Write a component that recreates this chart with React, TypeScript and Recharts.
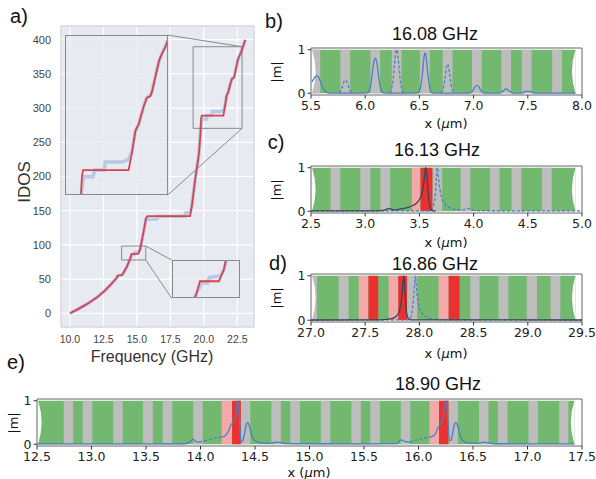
import React from "react";
import { LineChart, Line, XAxis, YAxis, CartesianGrid, ReferenceArea, ReferenceLine } from "recharts";

type Pair = [number, number | null];
const toPts = (arr: Pair[]) => arr.map(([x, y]) => ({ x, y }));

const SANS = "'Liberation Sans', Arial, sans-serif";
const DJ = "'DejaVu Sans', sans-serif";
const GREEN = "#72b96f";
const GRAY = "#bdbdbd";
const PINK = "#f3a9a9";
const RED = "#ec3030";
const BLUE = "#4a7fc4";
const DARK = "#3a4656";

// ---------- panel a : IDOS vs frequency ----------
const A_X_TICKS = [10, 12.5, 15, 17.5, 20, 22.5];
const A_Y_TICKS = [0, 50, 100, 150, 200, 250, 300, 350, 400];
const A_XDOM: [number, number] = [9.33, 23.75];
const A_YDOM: [number, number] = [-20, 420];
const A_PLOT = { left: 61, top: 26, width: 193, height: 301 };

const IDOS_RED: Pair[] = [
  [10.0, 0], [10.5, 5], [11.0, 10.5], [11.4, 15], [12.0, 23], [12.6, 33], [13.1, 43], [13.5, 52],
  [13.55, 55], [13.9, 56], [14.25, 68], [14.5, 80], [14.6, 87], [15.1, 87], [15.23, 93], [15.41, 110],
  [15.55, 125], [15.68, 139], [15.8, 142], [18.97, 142], [19.1, 156], [19.35, 195], [19.64, 234],
  [19.75, 262], [19.8, 284], [19.84, 289], [21.46, 289], [21.58, 302], [21.7, 318], [21.76, 321],
  [21.82, 323], [21.99, 336], [22.11, 343], [22.23, 344], [22.3, 348], [22.47, 364], [22.55, 371],
  [22.65, 376], [22.77, 381], [22.93, 390], [23.1, 400],
];
const IDOS_BLUE: Pair[] = [
  [10.0, 0], [10.5, 5], [11.0, 10.5], [11.4, 15], [12.0, 23], [12.6, 33], [13.1, 43], [13.5, 52],
  [13.6, 55], [13.95, 57], [14.25, 68], [14.5, 80], [14.65, 86], [14.8, 86], [14.85, 89], [15.15, 90],
  [15.25, 94], [15.41, 110], [15.68, 137], [15.75, 137], [16.5, 138], [16.6, 142], [18.6, 142],
  [18.65, 147], [18.97, 147], [19.1, 156], [19.35, 195], [19.64, 234], [19.77, 270], [19.85, 284],
  [20.2, 284], [20.25, 289], [20.6, 289], [20.63, 295], [21.22, 295], [21.46, 297], [21.58, 303],
  [21.7, 318], [21.8, 322], [21.85, 326], [21.99, 336], [22.05, 340], [22.11, 343], [22.25, 345],
  [22.3, 349], [22.47, 364], [22.55, 371], [22.65, 376], [22.77, 381], [22.93, 390], [23.1, 400],
];

const TOP_INSET = { x1: 9.63, x2: 17.3, y1: 172.9, y2: 406.8 };
const TOP_ZOOM = { x1: 19.2, x2: 22.86, y1: 270.4, y2: 389.7 };
const BOT_INSET = { x1: 17.6, x2: 22.71, y1: 21.9, y2: 77.9 };
const BOT_ZOOM = { x1: 13.86, x2: 15.66, y1: 78, y2: 98.4 };

// ---------- panels b-e : |m| profiles ----------
const B_TICKS = [5.5, 6.0, 6.5, 7.0, 7.5, 8.0];
const B_SPAN: [number, number] = [5.51, 7.94];
const B_GRAY: [number, number][] = [
  [5.51, 5.585], [5.771, 5.861], [6.048, 6.138], [6.245, 6.335], [6.505, 6.595],
  [6.715, 6.805], [6.985, 7.075], [7.255, 7.345], [7.445, 7.535], [7.725, 7.815],
];
const B_SOLID: Pair[] = [
  [5.51, 0.26], [5.525, 0.33], [5.54, 0.38], [5.555, 0.4], [5.57, 0.37], [5.59, 0.25], [5.61, 0.12],
  [5.63, 0.04], [5.66, 0.01], [5.75, 0.005], [5.9, 0.005],
  [6.02, 0.01], [6.045, 0.12], [6.065, 0.45], [6.08, 0.72], [6.093, 0.8], [6.106, 0.72], [6.121, 0.45],
  [6.141, 0.12], [6.166, 0.01], [6.25, 0.005], [6.35, 0.005],
  [6.49, 0.01], [6.51, 0.13], [6.53, 0.5], [6.542, 0.82], [6.552, 0.93], [6.563, 0.82], [6.576, 0.5],
  [6.596, 0.13], [6.616, 0.01], [6.7, 0.005], [6.85, 0.005],
  [6.96, 0.005], [6.99, 0.05], [7.01, 0.14], [7.03, 0.18], [7.05, 0.14], [7.07, 0.05], [7.1, 0.005],
  [7.24, 0.005], [7.27, 0.05], [7.3, 0.1], [7.33, 0.05], [7.36, 0.005],
  [7.44, 0.005], [7.47, 0.035], [7.5, 0.05], [7.53, 0.035], [7.56, 0.005], [7.94, 0.003],
];
const B_DASH: Pair[] = [
  [5.76, 0.01], [5.785, 0.12], [5.805, 0.27], [5.818, 0.3], [5.83, 0.27], [5.85, 0.12], [5.875, 0.01],
  [6.0, null],
  [6.225, 0.01], [6.25, 0.18], [6.268, 0.6], [6.28, 0.9], [6.29, 1.0], [6.3, 0.9], [6.312, 0.6],
  [6.33, 0.18], [6.355, 0.01],
  [6.5, null],
  [6.7, 0.01], [6.722, 0.12], [6.74, 0.42], [6.752, 0.62], [6.76, 0.67], [6.768, 0.62], [6.78, 0.42],
  [6.798, 0.12], [6.82, 0.01],
];

const C_TICKS = [2.5, 3.0, 3.5, 4.0, 4.5, 5.0];
const C_SPAN: [number, number] = [2.51, 4.94];
const C_GRAY: [number, number][] = [
  [2.68, 2.77], [2.955, 3.047], [3.14, 3.23], [3.62, 3.71], [3.88, 3.97], [4.15, 4.24], [4.35, 4.44], [4.63, 4.72],
];
const C_PINK: [number, number][] = [[3.43, 3.51]];
const C_RED: [number, number][] = [[3.51, 3.62]];
const C_SOLID: Pair[] = [
  [2.5, 0.008], [3.1, 0.01], [3.17, 0.02], [3.2, 0.05], [3.22, 0.065], [3.24, 0.05], [3.27, 0.03],
  [3.32, 0.05], [3.38, 0.08], [3.43, 0.12], [3.47, 0.18], [3.5, 0.27], [3.52, 0.38], [3.535, 0.55],
  [3.548, 0.8], [3.558, 1.0], [3.566, 0.9], [3.575, 0.6], [3.585, 0.3], [3.6, 0.08], [3.615, 0.02], [3.65, 0.005],
];
const C_DASH: Pair[] = [
  [2.5, 0.01], [3.55, 0.01], [3.6, 0.02], [3.625, 0.1], [3.645, 0.35], [3.655, 0.7], [3.665, 1.0],
  [3.675, 0.8], [3.69, 0.5], [3.71, 0.28], [3.74, 0.15], [3.78, 0.08], [3.83, 0.04], [3.9, 0.03],
  [3.93, 0.05], [3.955, 0.065], [3.98, 0.04], [4.02, 0.015], [4.4, 0.01], [5.0, 0.01],
];

const D_TICKS = [27.0, 27.5, 28.0, 28.5, 29.0, 29.5];
const D_SPAN: [number, number] = [27.01, 29.44];
const D_GRAY: [number, number][] = [
  [27.01, 27.055], [27.255, 27.347], [27.886, 27.978], [28.47, 28.555], [28.73, 28.82], [28.99, 29.085], [29.21, 29.3],
];
const D_PINK: [number, number][] = [[27.44, 27.53], [27.716, 27.805], [28.177, 28.27]];
const D_RED: [number, number][] = [[27.53, 27.62], [27.805, 27.886], [28.27, 28.37]];
const D_SOLID: Pair[] = [
  [27.0, 0.005], [27.6, 0.008], [27.7, 0.02], [27.75, 0.04], [27.79, 0.1], [27.815, 0.2], [27.83, 0.38],
  [27.84, 0.6], [27.848, 0.85], [27.855, 1.0], [27.862, 0.85], [27.87, 0.5], [27.88, 0.2], [27.895, 0.05],
  [27.92, 0.01], [29.5, 0.005],
];
const D_DASH: Pair[] = [
  [27.0, 0.005], [27.9, 0.01], [27.925, 0.1], [27.94, 0.35], [27.952, 0.7], [27.962, 1.0], [27.972, 0.75],
  [27.985, 0.45], [28.0, 0.28], [28.03, 0.14], [28.07, 0.07], [28.12, 0.03], [28.2, 0.012], [29.5, 0.005],
];

const E_TICKS = [12.5, 13.0, 13.5, 14.0, 14.5, 15.0, 15.5, 16.0, 16.5, 17.0, 17.5];
const E_SPAN: [number, number] = [12.51, 17.43];
const E_GRAY: [number, number][] = [
  [12.745, 12.832], [12.919, 13.007], [13.199, 13.286], [13.472, 13.563], [13.653, 13.741], [13.933, 14.02],
  [14.37, 14.457], [14.65, 14.737], [14.824, 14.912], [15.104, 15.191], [15.384, 15.471], [15.558, 15.646],
  [15.838, 15.925], [16.275, 16.362], [16.555, 16.642], [16.729, 16.817], [17.009, 17.096], [17.29, 17.375],
];
const E_PINK: [number, number][] = [[14.195, 14.29], [16.1, 16.188]];
const E_RED: [number, number][] = [[14.29, 14.37], [16.188, 16.275]];
const E_SOLID: Pair[] = [
  [12.5, 0.01], [13.2, 0.01], [13.85, 0.012], [13.9, 0.05], [13.93, 0.11], [13.96, 0.06], [13.99, 0.05],
  [14.1, null],
  [14.19, 0.16], [14.23, 0.2], [14.26, 0.32], [14.28, 0.45], [14.3, 0.5], [14.32, 0.6], [14.34, 0.95],
  [14.35, 1.0], [14.36, 0.5], [14.37, 0.1], [14.38, 0.05], [14.4, 0.2], [14.42, 0.45], [14.435, 0.5],
  [14.45, 0.4], [14.47, 0.2], [14.5, 0.08], [14.55, 0.03], [14.62, 0.02], [14.68, 0.04], [14.71, 0.05],
  [14.75, 0.03], [14.8, 0.015], [15.5, 0.01], [15.8, 0.015], [15.84, 0.1], [15.88, 0.06], [15.92, 0.05],
  [16.0, null],
  [16.1, 0.16], [16.15, 0.22], [16.18, 0.38], [16.2, 0.45], [16.22, 0.55], [16.25, 0.95], [16.26, 1.0],
  [16.27, 0.5], [16.285, 0.08], [16.3, 0.1], [16.32, 0.35], [16.34, 0.5], [16.36, 0.42], [16.38, 0.2],
  [16.41, 0.08], [16.45, 0.03], [16.55, 0.02], [16.6, 0.05], [16.64, 0.03], [16.7, 0.012], [17.43, 0.01],
];
const E_DASH: Pair[] = [
  [13.99, 0.05], [14.05, 0.09], [14.1, 0.12], [14.15, 0.15], [14.19, 0.16],
  [15.0, null],
  [15.92, 0.05], [15.98, 0.1], [16.04, 0.14], [16.1, 0.16],
];

// ---------- helpers ----------
const notchLeft = (p: any) => {
  const d = 3.5;
  return <path d={`M${p.x},${p.y} Q${p.x + 2 * d},${p.y + p.height / 2} ${p.x},${p.y + p.height} Z`} fill="#fff" />;
};
const notchRight = (p: any) => {
  const d = 3.5;
  const x = p.x + p.width;
  return <path d={`M${x},${p.y} Q${x - 2 * d},${p.y + p.height / 2} ${x},${p.y + p.height} Z`} fill="#fff" />;
};

function Txt(props: { x: number; y: number; size: number; font?: string; rotate?: boolean; color?: string; children: React.ReactNode }) {
  return (
    <div
      style={{
        position: "absolute",
        left: props.x,
        top: props.y,
        transform: `translate(-50%, -50%)${props.rotate ? " rotate(-90deg)" : ""}`,
        fontSize: props.size,
        fontFamily: props.font || SANS,
        color: props.color || "#111",
        whiteSpace: "nowrap",
        lineHeight: 1,
      }}
    >
      {props.children}
    </div>
  );
}

type StripProps = {
  px: number; py: number; pw: number; ph: number;
  xDomain: [number, number]; xTicks: number[]; span: [number, number];
  gray: [number, number][]; pink: [number, number][]; red: [number, number][];
  solid: Pair[]; dashed: Pair[]; solidColor: string;
};

function StripPanel(p: StripProps) {
  const YW = 34, XH = 26, MT = 9, MR = 14;
  const W = YW + p.pw + MR;
  const H = MT + p.ph + XH;
  const yDom: [number, number] = [-0.04, 1.04];
  const tickStyle = { fontSize: 12.5, fill: "#222", fontFamily: DJ };
  return (
    <div style={{ position: "absolute", left: p.px - YW, top: p.py - MT, width: W, height: H }}>
      <div style={{ position: "absolute", left: 0, top: 0 }}>
        <LineChart width={W} height={H} margin={{ top: MT, right: MR, left: YW, bottom: XH }}>
          <XAxis type="number" dataKey="x" domain={p.xDomain} hide allowDataOverflow />
          <YAxis type="number" domain={yDom} hide allowDataOverflow />
          <ReferenceArea x1={p.span[0]} x2={p.span[1]} y1={0} y2={1} fill={GREEN} fillOpacity={1} stroke="none" />
          {p.gray.map(([a, b], i) => (
            <ReferenceArea key={"g" + i} x1={a} x2={b} y1={0} y2={1} fill={GRAY} fillOpacity={1} stroke="none" />
          ))}
          {p.pink.map(([a, b], i) => (
            <ReferenceArea key={"p" + i} x1={a} x2={b} y1={0} y2={1} fill={PINK} fillOpacity={1} stroke="none" />
          ))}
          {p.red.map(([a, b], i) => (
            <ReferenceArea key={"r" + i} x1={a} x2={b} y1={0} y2={1} fill={RED} fillOpacity={1} stroke="none" />
          ))}
          <ReferenceArea x1={p.span[0]} x2={p.span[0] + 0.02} y1={0} y2={1} shape={notchLeft} />
          <ReferenceArea x1={p.span[1] - 0.02} x2={p.span[1]} y1={0} y2={1} shape={notchRight} />
        </LineChart>
      </div>
      <div style={{ position: "absolute", left: 0, top: 0 }}>
        <LineChart width={W} height={H} margin={{ top: MT, right: MR, left: 0, bottom: 0 }}>
          <XAxis
            type="number" dataKey="x" domain={p.xDomain} ticks={p.xTicks} interval={0} height={XH}
            tickSize={3.5} tickMargin={3} axisLine={false} tickLine={{ stroke: "#333" }} tick={tickStyle}
            tickFormatter={(v: number) => v.toFixed(1)} allowDataOverflow
          />
          <YAxis
            type="number" domain={yDom} ticks={[0, 1]} interval={0} width={YW}
            tickSize={3.5} tickMargin={2} axisLine={false} tickLine={{ stroke: "#333" }} tick={tickStyle} allowDataOverflow
          />
          <ReferenceArea x1={p.xDomain[0]} x2={p.xDomain[1]} y1={yDom[0]} y2={yDom[1]} fill="none" stroke="#666" strokeWidth={1} />
          <Line data={toPts(p.dashed)} dataKey="y" type="monotone" stroke={BLUE} strokeWidth={1.3} strokeDasharray="3 2" dot={false} isAnimationActive={false} connectNulls={false} />
          <Line data={toPts(p.solid)} dataKey="y" type="monotone" stroke={p.solidColor} strokeWidth={1.3} dot={false} isAnimationActive={false} connectNulls={false} />
        </LineChart>
      </div>
    </div>
  );
}

function dataToPx(x: number, y: number) {
  return {
    x: A_PLOT.left + ((x - A_XDOM[0]) / (A_XDOM[1] - A_XDOM[0])) * A_PLOT.width,
    y: A_PLOT.top + ((A_YDOM[1] - y) / (A_YDOM[1] - A_YDOM[0])) * A_PLOT.height,
  };
}

function Inset(props: { rect: { x1: number; x2: number; y1: number; y2: number }; zoom: { x1: number; x2: number; y1: number; y2: number } }) {
  const tl = dataToPx(props.rect.x1, props.rect.y2);
  const br = dataToPx(props.rect.x2, props.rect.y1);
  const w = Math.round(br.x - tl.x);
  const h = Math.round(br.y - tl.y);
  return (
    <div style={{ position: "absolute", left: tl.x, top: tl.y, width: w, height: h }}>
      <div style={{ position: "absolute", left: 0, top: 0, width: w, height: h, background: "rgba(232,234,242,0.75)" }} />
      <div style={{ position: "absolute", left: 0, top: 0 }}>
        <LineChart width={w} height={h} margin={{ top: 0, right: 0, left: 0, bottom: 0 }}>
          <XAxis type="number" dataKey="x" domain={[props.zoom.x1, props.zoom.x2]} hide allowDataOverflow />
          <YAxis type="number" domain={[props.zoom.y1, props.zoom.y2]} hide allowDataOverflow />
          <Line data={toPts(IDOS_BLUE)} dataKey="y" type="linear" stroke="#5a8fcb" strokeWidth={3.5} strokeOpacity={0.35} dot={false} isAnimationActive={false} />
          <Line data={toPts(IDOS_RED)} dataKey="y" type="linear" stroke="#d9434f" strokeWidth={1.8} dot={false} isAnimationActive={false} />
        </LineChart>
      </div>
      <div style={{ position: "absolute", left: 0, top: 0, width: w, height: h, border: "1px solid #8a8a8a", boxSizing: "border-box" }} />
    </div>
  );
}

export default function App() {
  const conn = "#8a8a8a";
  return (
    <div style={{ position: "fixed", left: 0, top: 0, width: 596, height: 479, background: "#fff", overflow: "hidden" }}>
      {/* panel a */}
      <div style={{ position: "absolute", left: 0, top: 0 }}>
        <LineChart width={260} height={347} margin={{ top: 26, right: 6, left: 0, bottom: 0 }}>
          <CartesianGrid stroke="#ffffff" strokeWidth={1.2} fill="#e8eaf2" fillOpacity={1} />
          <XAxis
            type="number" dataKey="x" domain={A_XDOM} ticks={A_X_TICKS} interval={0} height={20}
            tickLine={false} axisLine={false} tickSize={0} tickMargin={9}
            tick={{ fontSize: 10.5, fill: "#444", fontFamily: SANS }} tickFormatter={(v: number) => v.toFixed(1)} allowDataOverflow
          />
          <YAxis
            type="number" domain={A_YDOM} ticks={A_Y_TICKS} interval={0} width={61}
            tickLine={false} axisLine={false} tickSize={0} tickMargin={10}
            tick={{ fontSize: 11, fill: "#444", fontFamily: SANS }} allowDataOverflow
          />
          <ReferenceArea x1={A_XDOM[0]} x2={A_XDOM[1]} y1={A_YDOM[0]} y2={A_YDOM[1]} fill="none" stroke="#c4c4cc" />
          <ReferenceArea x1={TOP_ZOOM.x1} x2={TOP_ZOOM.x2} y1={TOP_ZOOM.y1} y2={TOP_ZOOM.y2} fill="none" stroke={conn} />
          <ReferenceArea x1={BOT_ZOOM.x1} x2={BOT_ZOOM.x2} y1={BOT_ZOOM.y1} y2={BOT_ZOOM.y2} fill="none" stroke={conn} />
          <ReferenceLine segment={[{ x: TOP_INSET.x2, y: TOP_INSET.y2 }, { x: TOP_ZOOM.x2, y: TOP_ZOOM.y2 }]} stroke={conn} />
          <ReferenceLine segment={[{ x: TOP_INSET.x2, y: TOP_INSET.y1 }, { x: TOP_ZOOM.x2, y: TOP_ZOOM.y1 }]} stroke={conn} />
          <ReferenceLine segment={[{ x: BOT_ZOOM.x2, y: BOT_ZOOM.y2 }, { x: BOT_INSET.x1, y: BOT_INSET.y2 }]} stroke={conn} />
          <ReferenceLine segment={[{ x: BOT_ZOOM.x2, y: BOT_ZOOM.y1 }, { x: BOT_INSET.x1, y: BOT_INSET.y1 }]} stroke={conn} />
          <Line data={toPts(IDOS_BLUE)} dataKey="y" type="linear" stroke="#5a8fcb" strokeWidth={3.5} strokeOpacity={0.35} dot={false} isAnimationActive={false} />
          <Line data={toPts(IDOS_RED)} dataKey="y" type="linear" stroke="#d9434f" strokeWidth={1.8} dot={false} isAnimationActive={false} />
        </LineChart>
      </div>
      <Inset rect={TOP_INSET} zoom={TOP_ZOOM} />
      <Inset rect={BOT_INSET} zoom={BOT_ZOOM} />
      <Txt x={19} y={16} size={20}>a)</Txt>
      <Txt x={24} y={182} size={17} rotate color="#333">IDOS</Txt>
      <Txt x={152} y={357} size={16} color="#333">Frequency (GHz)</Txt>

      {/* panel b */}
      <StripPanel px={311} py={48} pw={271} ph={47} xDomain={[5.5, 8.0]} xTicks={B_TICKS} span={B_SPAN}
        gray={B_GRAY} pink={[]} red={[]} solid={B_SOLID} dashed={B_DASH} solidColor={BLUE} />
      <Txt x={274} y={21} size={20}>b)</Txt>
      <Txt x={435} y={34} size={18}>16.08 GHz</Txt>
      <Txt x={276} y={72} size={13} font={DJ} rotate>|m|</Txt>
      <Txt x={446} y={123} size={13} font={DJ}>x (<i>μ</i>m)</Txt>

      {/* panel c */}
      <StripPanel px={311} py={166} pw={271} ph={47} xDomain={[2.5, 5.0]} xTicks={C_TICKS} span={C_SPAN}
        gray={C_GRAY} pink={C_PINK} red={C_RED} solid={C_SOLID} dashed={C_DASH} solidColor={DARK} />
      <Txt x={276} y={142} size={20}>c)</Txt>
      <Txt x={437} y={150} size={18}>16.13 GHz</Txt>
      <Txt x={276} y={190} size={13} font={DJ} rotate>|m|</Txt>
      <Txt x={446} y={242} size={13} font={DJ}>x (<i>μ</i>m)</Txt>

      {/* panel d */}
      <StripPanel px={311} py={274} pw={271} ph={48} xDomain={[27.0, 29.5]} xTicks={D_TICKS} span={D_SPAN}
        gray={D_GRAY} pink={D_PINK} red={D_RED} solid={D_SOLID} dashed={D_DASH} solidColor={DARK} />
      <Txt x={278} y={263} size={20}>d)</Txt>
      <Txt x={435} y={264} size={18}>16.86 GHz</Txt>
      <Txt x={276} y={298} size={13} font={DJ} rotate>|m|</Txt>
      <Txt x={446} y={353} size={13} font={DJ}>x (<i>μ</i>m)</Txt>

      {/* panel e */}
      <StripPanel px={37} py={399} pw={545} ph={47} xDomain={[12.5, 17.5]} xTicks={E_TICKS} span={E_SPAN}
        gray={E_GRAY} pink={E_PINK} red={E_RED} solid={E_SOLID} dashed={E_DASH} solidColor={BLUE} />
      <Txt x={16} y={362} size={20}>e)</Txt>
      <Txt x={438} y={384} size={18}>18.90 GHz</Txt>
      <Txt x={13} y={423} size={13} font={DJ} rotate>|m|</Txt>
      <Txt x={309} y={472} size={13} font={DJ}>x (<i>μ</i>m)</Txt>
    </div>
  );
}
